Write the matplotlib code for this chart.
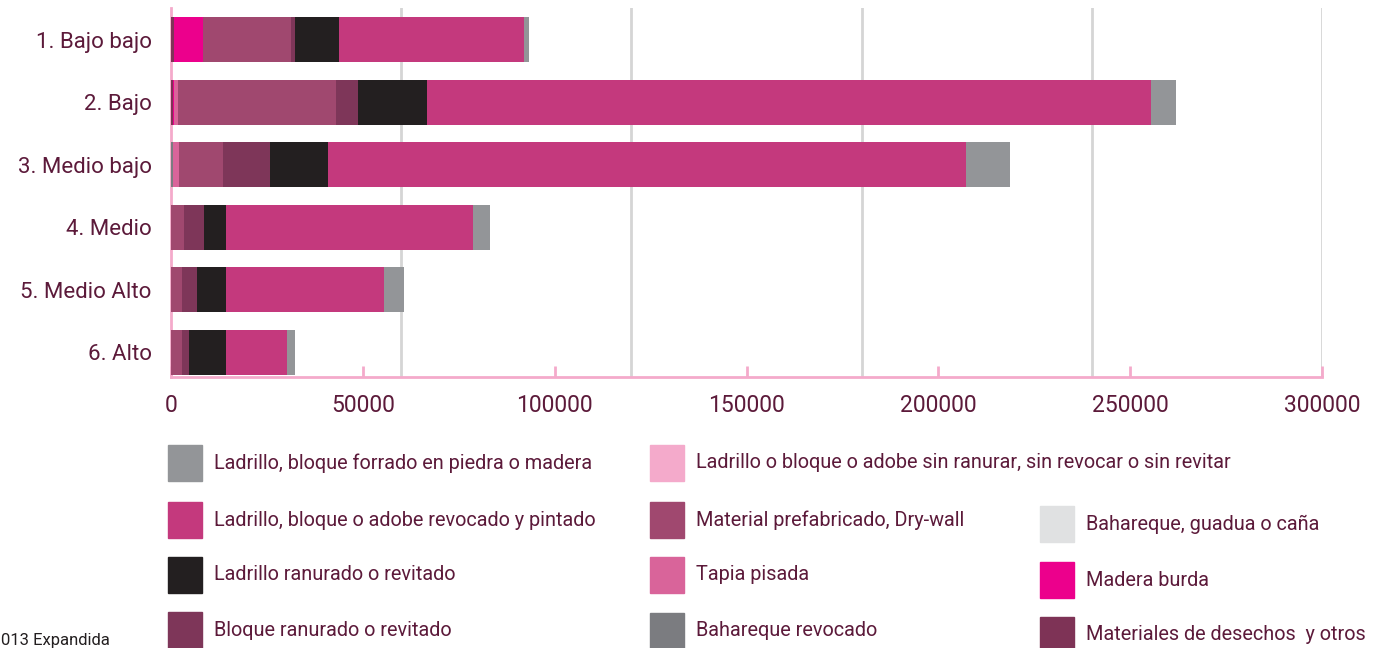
import matplotlib.pyplot as plt
from matplotlib.patches import Rectangle

# categories (top to bottom)
estratos = ['1. Bajo bajo', '2. Bajo', '3. Medio bajo', '4. Medio', '5. Medio Alto', '6. Alto']

# materials, in the order they are stacked from left to right
desechos = [800, 400, 0, 0, 0, 0]
madera_burda = [7500, 300, 0, 0, 0, 0]
bahareque_guadua = [0, 0, 0, 0, 0, 0]
bahareque_revocado = [0, 200, 500, 0, 0, 0]
tapia = [100, 900, 1650, 0, 0, 0]
prefabricado = [22800, 41200, 11500, 3500, 2900, 2900]
sin_ranurar = [0, 0, 0, 0, 0, 0]
bloque_ranurado = [1000, 5700, 12250, 5200, 3900, 1800]
ladrillo_ranurado = [11500, 18000, 15100, 5700, 7600, 9600]
revocado_pintado = [48200, 188700, 166100, 64400, 41200, 15900]
forrado = [1300, 6500, 11500, 4400, 5000, 2100]

series = [
    ('Materiales de desechos  y otros', desechos, '#7E3356'),
    ('Madera burda', madera_burda, '#EC008C'),
    ('Bahareque, guadua o caña', bahareque_guadua, '#E0E1E2'),
    ('Bahareque revocado', bahareque_revocado, '#7B7C80'),
    ('Tapia pisada', tapia, '#D9649A'),
    ('Material prefabricado, Dry-wall', prefabricado, '#A0486F'),
    ('Ladrillo o bloque o adobe sin ranurar, sin revocar o sin revitar', sin_ranurar, '#F4AACB'),
    ('Bloque ranurado o revitado', bloque_ranurado, '#7E3659'),
    ('Ladrillo ranurado o revitado', ladrillo_ranurado, '#231F20'),
    ('Ladrillo, bloque o adobe revocado y pintado', revocado_pintado, '#C4397D'),
    ('Ladrillo, bloque forrado en piedra o madera', forrado, '#939598'),
]

text_color = '#5C1A3A'
pink = '#F4AACB'
plt.rcParams['font.family'] = ['Roboto', 'DejaVu Sans']

fig = plt.figure(figsize=(13.81, 6.48), dpi=100)
ax = fig.add_axes([171 / 1381, 1 - 377 / 648, (1322 - 171) / 1381, 369 / 648])

y = list(range(len(estratos)))
left = [0] * len(estratos)
for name, vals, col in series:
    ax.barh(y, vals, left=left, color=col, height=0.72, zorder=3)
    left = [a + b for a, b in zip(left, vals)]

# grid lines every 60000, labelled ticks every 50000
for gx in [60000, 120000, 180000, 240000, 300000]:
    ax.axvline(gx, color='#D5D5D5', linewidth=2, zorder=1)

ax.set_xlim(0, 300000)
ax.set_ylim(5.4, -0.51)
ax.set_xticks([0, 50000, 100000, 150000, 200000, 250000, 300000])
ax.set_xticklabels(['0', '50000', '100000', '150000', '200000', '250000', '300000'])
ax.set_yticks(y)
ax.set_yticklabels(estratos)
ax.tick_params(axis='x', direction='in', length=8, width=2, color=pink,
               labelsize=16.5, labelcolor=text_color, pad=12)
ax.tick_params(axis='y', length=0, labelsize=16, labelcolor=text_color, pad=14)
for s in ['top', 'right']:
    ax.spines[s].set_visible(False)
for s in ['left', 'bottom']:
    ax.spines[s].set_color(pink)
    ax.spines[s].set_linewidth(2)

# legend, drawn by hand in three columns
legend_pos = {
    'Ladrillo, bloque forrado en piedra o madera': (168, 463),
    'Ladrillo, bloque o adobe revocado y pintado': (168, 520),
    'Ladrillo ranurado o revitado': (168, 575),
    'Bloque ranurado o revitado': (168, 630),
    'Ladrillo o bloque o adobe sin ranurar, sin revocar o sin revitar': (650, 463),
    'Material prefabricado, Dry-wall': (650, 520),
    'Tapia pisada': (650, 575),
    'Bahareque revocado': (650, 631),
    'Bahareque, guadua o caña': (1040, 524),
    'Madera burda': (1040, 580),
    'Materiales de desechos  y otros': (1040, 635),
}
W, H = 1381, 648
for name, vals, col in series:
    px, py = legend_pos[name]
    fig.add_artist(Rectangle((px / W, 1 - (py + 18) / H), 34 / W, 36 / H,
                             transform=fig.transFigure, color=col))
    fig.text((px + 46) / W, 1 - py / H, name, fontsize=14.3, color=text_color,
             va='center', ha='left')

# source note, only partly visible in the original
fig.text(1 / W, 1 - 641 / H, '013 Expandida', fontsize=12, color='#231F20',
         ha='left', va='center')

plt.savefig('out.png', dpi=100)
